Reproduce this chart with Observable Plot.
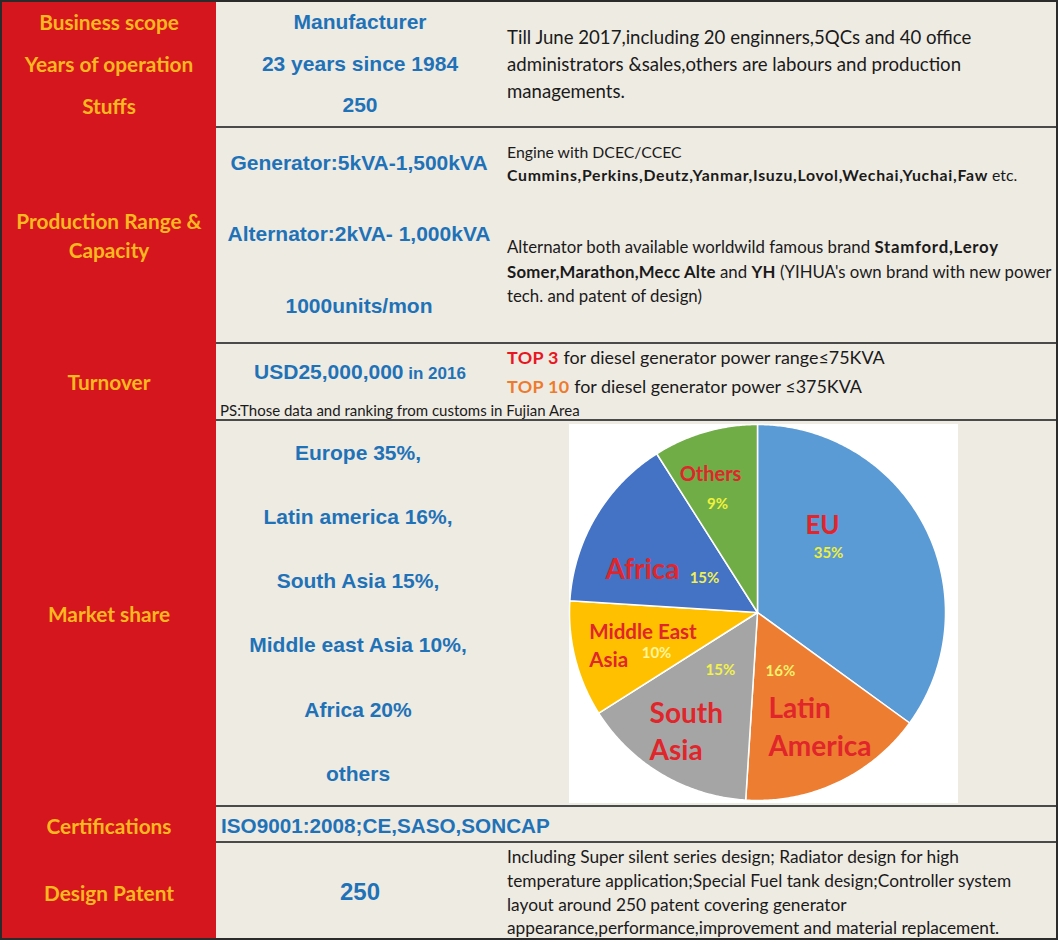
<!DOCTYPE html>
<html>
<head>
<meta charset="utf-8">
<script src="https://cdn.jsdelivr.net/npm/d3@7"></script>
<script src="https://cdn.jsdelivr.net/npm/@observablehq/plot@0.6"></script>
<style>
  html, body { margin: 0; padding: 0; background: #ffffff; }
  #frame { position: absolute; left: 0; top: 0; width: 1058px; height: 940px; background: #EEEBE3; overflow: hidden; }
  #redcol { position: absolute; left: 0; top: 0; width: 216px; height: 940px; background: #D6161E; }
  #border { position: absolute; left: 0; top: 0; width: 1058px; height: 940px; border: 2px solid #2b2b2b; box-sizing: border-box; pointer-events: none; }
  .hline { position: absolute; left: 216px; width: 842px; height: 2px; background: #4a4a4a; }
  .t { position: absolute; white-space: nowrap; line-height: 1.2; }
  .c { transform: translate(-50%, -50%); text-align: center; }
  .l { transform: translateY(-50%); }
  .lab { font-family: Lato, "Open Sans", sans-serif; font-weight: 700; color: #FFB81E; font-size: 20.8px; }
  .blue { font-family: "Liberation Sans", Arial, sans-serif; font-weight: 700; color: #1F72B7; font-size: 21px; }
  .body { font-family: Lato, "Open Sans", sans-serif; color: #1a1a1a; }
  .body b { font-weight: 700; letter-spacing: 0.045em; }
  .body.tight b { letter-spacing: 0.012em; }
  #pie { position: absolute; left: 569px; top: 424px; }
</style>
</head>
<body>
<div id="frame">
  <div id="redcol"></div>
</div>
<script>
// ---------- data ----------
const rowLabels = ["Business scope", "Years of operation", "Stuffs", "Production Range &\nCapacity", "Turnover", "Market share", "Certifications", "Design Patent"];
const basicFacts = ["Manufacturer", "23 years since 1984", "250"];
const productionFacts = ["Generator:5kVA-1,500kVA", "Alternator:2kVA- 1,000kVA", "1000units/mon"];
const turnoverValue = ["USD25,000,000", " in 2016"];
const marketLines = ["Europe 35%,", "Latin america 16%,", "South Asia 15%,", "Middle east Asia 10%,", "Africa 20%", "others"];
const certifications = "ISO9001:2008;CE,SASO,SONCAP";
const patentCount = "250";
const staffNote = ["Till June 2017,including 20 enginners,5QCs and 40 office", "administrators &sales,others are labours and production", "managements."];
const engineNote = ["Engine with DCEC/CCEC", "<b>Cummins,Perkins,Deutz,Yanmar,Isuzu,Lovol,Wechai,Yuchai,Faw</b> etc."];
const alternatorNote = ["Alternator both available worldwild famous brand <b>Stamford,Leroy</b>", "<b>Somer,Marathon,Mecc Alte</b> and <b>YH</b> (YIHUA's own brand with new power", "tech. and patent of design)"];
const rankingNote = ["<b style='color:#E8161E;letter-spacing:0.02em'>TOP 3</b> for diesel generator power range≤75KVA", "<b style='color:#EE7B2D;letter-spacing:0.02em'>TOP 10</b> for diesel generator power ≤375KVA"];
const psNote = "PS:Those data and ranking from customs in Fujian Area";
const patentNote = ["Including Super silent series design; Radiator design for high", "temperature application;Special Fuel tank design;Controller system", "layout around 250 patent covering generator", "appearance,performance,improvement and material replacement."];

// pie data
const regions = ["EU", "Latin America", "South Asia", "Middle East Asia", "Africa", "Others"];
const shares = [35, 16, 15, 10, 15, 9];
const shareLabels = ["35%", "16%", "15%", "10%", "15%", "9%"];
const sliceColors = ["#5B9BD5", "#ED7D31", "#A5A5A5", "#FFC000", "#4472C4", "#70AD47"];
const regionText = ["EU", "Latin\nAmerica", "South\nAsia", "Middle East\nAsia", "Africa", "Others"];

// ---------- layout ----------
const frame = document.getElementById("frame");
function put(html, cls, x, y, style) {
  const d = document.createElement("div");
  d.className = "t " + cls;
  d.style.left = x + "px";
  d.style.top = y + "px";
  if (style) d.style.cssText += style;
  d.innerHTML = html;
  frame.appendChild(d);
  return d;
}
// horizontal rules
[126, 342, 419, 805, 841].forEach(y => {
  const d = document.createElement("div");
  d.className = "hline"; d.style.top = y + "px"; frame.appendChild(d);
});

// left labels
const labelY = [22, 64, 106, null, 382, 614, 826, 893];
rowLabels.forEach((s, i) => {
  if (i === 3) {
    const [a, b] = s.split("\n");
    put(a, "lab c", 109, 221);
    put(b, "lab c", 109, 250);
  } else put(s, "lab c", 109, labelY[i]);
});

// middle column
[22, 64, 105].forEach((y, i) => put(basicFacts[i], "blue c", 360, y));
[163, 234, 306].forEach((y, i) => put(productionFacts[i], "blue c", 359, y));
put(turnoverValue[0] + "<span style='font-size:17px'>" + turnoverValue[1] + "</span>", "blue c", 360, 372);
[453, 517, 581, 645, 710, 774].forEach((y, i) => put(marketLines[i], "blue c", 358, y));
put(certifications, "blue l", 221, 826, "font-size:20.7px");
put(patentCount, "blue c", 360, 892, "font-size:24px");

// right column
[37, 64, 91].forEach((y, i) => put(staffNote[i], "body l", 507, y, "font-size:18.6px"));
[152, 175].forEach((y, i) => put(engineNote[i], "body l", 507, y, "font-size:15.8px"));
[247, 272, 296].forEach((y, i) => put(alternatorNote[i], i === 1 ? "body tight l" : "body l", 507, y, "font-size:16.8px"));
[358, 387].forEach((y, i) => put(rankingNote[i], "body l", 507, y, "font-size:17.9px"));
put(psNote, "body l", 220, 410, "font-size:15px");
[857, 881, 905, 928].forEach((y, i) => put(patentNote[i], "body l", 507, y, "font-size:17.3px"));

// ---------- pie via Plot ----------
const arcs = d3.pie().sort(null).value(d => d)(shares);
const slices = arcs.map((a, i) => {
  const pts = [{x: 0, y: 0}];
  const n = Math.max(2, Math.ceil((a.endAngle - a.startAngle) / 0.01));
  for (let k = 0; k <= n; k++) {
    const t = a.startAngle + (a.endAngle - a.startAngle) * k / n;
    pts.push({x: Math.sin(t), y: Math.cos(t)});
  }
  return {region: regions[i], color: sliceColors[i], pts};
});

// label placement (pie units, radius = 1)
const namePos = [[0.346, 0.478, "middle", 26], [0.058, -0.598, "start", 28], [-0.574, -0.622, "start", 28], [-0.895, -0.168, "start", 20.5], [-0.612, 0.245, "middle", 28], [-0.25, 0.745, "middle", 20]];
const pctPos = [[0.378, 0.315, "#EFEF3A"], [0.122, -0.31, "#F6F26A"], [-0.197, -0.306, "#F2F24A"], [-0.537, -0.219, "#FFF59A"], [-0.282, 0.181, "#F0F050"], [-0.213, 0.575, "#F2F23A"]];
const nameData = regions.map((r, i) => ({text: regionText[i], x: namePos[i][0], y: namePos[i][1], anchor: namePos[i][2], size: namePos[i][3]}));
const pctData = regions.map((r, i) => ({text: shareLabels[i], x: pctPos[i][0], y: pctPos[i][1], color: pctPos[i][2]}));

const pie = Plot.plot({
  width: 389,
  height: 379,
  margin: 0,
  x: {domain: [-1, 1], range: [0, 376], axis: null},
  y: {domain: [-1, 1], range: [376, 0], axis: null},
  style: {background: "white", fontFamily: "Lato, sans-serif", overflow: "visible"},
  marks: [
    ...slices.map(s => Plot.line(s.pts, {x: "x", y: "y", fill: s.color, stroke: "white", strokeWidth: 1.5, curve: "linear-closed"})),
    ...nameData.map(d => Plot.text([d], {x: "x", y: "y", text: "text", textAnchor: d.anchor, fill: "#E0252B", fontWeight: 700, fontSize: d.size, lineHeight: 1.35})),
    Plot.text(pctData, {x: "x", y: "y", text: "text", fill: d => d.color, fontWeight: 700, fontSize: 15})
  ]
});
pie.id = "pie";
frame.appendChild(pie);

const border = document.createElement("div");
border.id = "border";
frame.appendChild(border);
</script>
</body>
</html>
